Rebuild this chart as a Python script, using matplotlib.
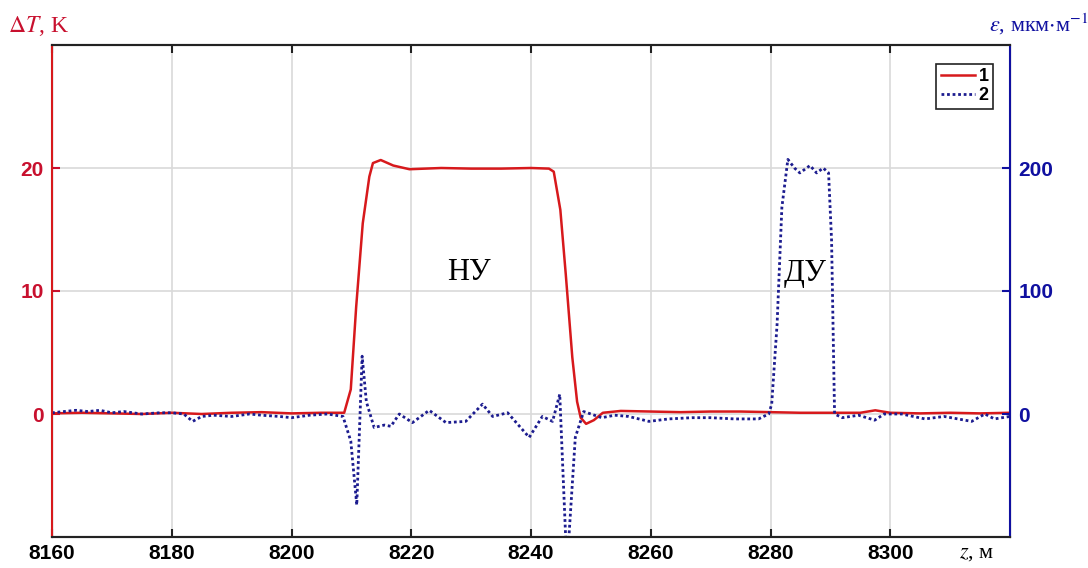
import numpy as np
import matplotlib
matplotlib.use("Agg")
import matplotlib.pyplot as plt
from matplotlib.lines import Line2D

plt.rcParams['mathtext.fontset'] = 'stix'

# temperature, curve 1
dT_z = [8160, 8165, 8170, 8175, 8180, 8185, 8190, 8195, 8200, 8205, 8208.8, 8209.9,
        8210.8, 8211.9, 8213.0, 8213.6, 8214.9, 8217, 8219.7, 8225, 8230, 8235, 8240,
        8243.0, 8243.8, 8244.9, 8245.8, 8246.9, 8247.7, 8248.3, 8249.2, 8250.5, 8252,
        8255, 8260, 8265, 8270, 8275, 8280, 8285, 8290, 8295, 8297.5, 8300, 8305,
        8310, 8315, 8320]
dT = [0.05, 0.1, 0.05, 0.0, 0.1, 0.0, 0.1, 0.15, 0.05, 0.1, 0.1, 2.0,
      8.7, 15.5, 19.3, 20.4, 20.65, 20.2, 19.9, 20.0, 19.95, 19.95, 20.0,
      19.95, 19.7, 16.6, 11.4, 4.6, 1.0, -0.3, -0.8, -0.5, 0.1,
      0.25, 0.2, 0.15, 0.2, 0.2, 0.15, 0.1, 0.1, 0.1, 0.3, 0.1, 0.05,
      0.1, 0.05, 0.1]

# strain, curve 2
eps_z = [8160, 8162, 8164, 8166, 8168, 8170, 8172, 8175, 8178, 8180, 8182, 8183.5,
         8185, 8187, 8190, 8193, 8195, 8198, 8200, 8203, 8206, 8208.6, 8209.9, 8210.9,
         8211.8, 8212.5, 8213.8, 8215.5, 8216.6, 8218, 8220.2, 8223, 8225.8, 8229.1,
         8231.9, 8233.6, 8236.1, 8239.7, 8241.9, 8243.6, 8244.8, 8246.0, 8247.4, 8248.8,
         8250, 8251.8, 8254, 8256.3, 8259.7, 8263, 8266.9, 8270, 8274, 8278, 8279.7,
         8280.2, 8281.1, 8281.9, 8282.9, 8284.0, 8284.9, 8286.6, 8287.7, 8288.8, 8289.7,
         8290.2, 8290.7, 8292, 8294.7, 8297.4, 8299, 8301.9, 8305.8, 8309, 8313.6,
         8315.8, 8317.4, 8320]
eps = [1, 2, 3, 2, 3, 1, 2, 0, 1, 1, 0, -6,
       -2, -1, -2, 0, -1, -2, -3, -1, 0, -2, -22, -74,
       47, 10, -11, -9, -10, 0, -7, 3, -7, -6,
       8, -2, 1, -19, -2, -6, 16, -125, -19, 2,
       0, -3, -1, -2, -6, -4, -3, -3, -4, -4, 0,
       8, 73, 168, 207, 200, 196, 202, 196, 200, 196,
       141, 0, -3, -1, -5, 0, 0, -4, -2, -6,
       0, -4, -2]

xticks = [8160, 8180, 8200, 8220, 8240, 8260, 8280, 8300]
red = '#d7191c'
red_txt = '#c8102e'
blue = '#1c1c8f'
blue_ax = '#1010a0'

fig = plt.figure(figsize=(10.88, 5.68), dpi=100)
fig.subplots_adjust(left=52/1088, right=1010/1088, bottom=31/568, top=523/568)
ax = fig.add_subplot(111)
ax2 = ax.twinx()

ax.plot(dT_z, dT, color=red, lw=1.8, zorder=3)
ax2.plot(eps_z, eps, color=blue, lw=2.0, ls=(0, (1, 1.0)))

ax.set_xlim(8160, 8320)
ax.set_ylim(-10, 30)
ax2.set_ylim(-100, 300)
ax.set_xticks(xticks)
ax.set_yticks([0, 10, 20])
ax2.set_yticks([0, 100, 200])
ax.grid(True, color='#d9d9d9', lw=1.2)
ax.set_axisbelow(True)

tick_font = dict(family='Liberation Sans', weight='bold', size=15)
ax.set_xticklabels([str(t) for t in xticks], **tick_font)
ax.set_yticklabels(['0', '10', '20'], color=red_txt, **tick_font)
ax2.set_yticklabels(['0', '100', '200'], color=blue_ax, **tick_font)

ax.tick_params(axis='x', direction='in', length=6, width=1.5, top=True, pad=5, color='#222222')
ax.tick_params(axis='y', direction='in', length=6, width=1.5, colors=red_txt, pad=6)
ax2.tick_params(axis='y', direction='in', length=6, width=1.5, colors=blue_ax, pad=6)

for a in (ax, ax2):
    a.spines['top'].set_color('#222222')
    a.spines['bottom'].set_color('#222222')
    a.spines['top'].set_linewidth(1.5)
    a.spines['bottom'].set_linewidth(1.5)
ax2.spines['left'].set_color(red)
ax2.spines['left'].set_linewidth(1.5)
ax2.spines['right'].set_color(blue_ax)
ax2.spines['right'].set_linewidth(1.5)

ax.text(-0.046, 1.038, r'$\Delta T$, K', transform=ax.transAxes, color=red_txt,
        family='Liberation Serif', fontsize=17, ha='left', va='center')
ax.text(1.082, 1.042, r'$\varepsilon$, мкм$\cdot$м$^{-1}$', transform=ax.transAxes,
        color=blue_ax, family='Liberation Serif', fontsize=16, ha='right', va='center')
ax.text(0.965, -0.034, r'$z$, м', transform=ax.transAxes, color='black',
        family='Liberation Serif', fontsize=16, ha='center', va='center')

ax.text(8229.7, 11.5, 'НУ', family='Liberation Serif', fontsize=22, ha='center', va='center')
ax.text(8285.8, 11.4, 'ДУ', family='Liberation Serif', fontsize=22, ha='center', va='center')

handles = [Line2D([], [], color=red, lw=1.8),
           Line2D([], [], color=blue, lw=2.0, ls=(0, (1, 1.0)))]
leg = ax2.legend(handles, ['1', '2'], loc='upper right', bbox_to_anchor=(0.992, 0.98),
                 prop=dict(family='Liberation Sans', weight='bold', size=13),
                 handlelength=1.9, handletextpad=0.2, borderpad=0.25, labelspacing=0.1,
                 fancybox=False, framealpha=1)
leg.get_frame().set_edgecolor('#222222')
leg.get_frame().set_linewidth(1.2)

fig.savefig('out.png', dpi=100)
